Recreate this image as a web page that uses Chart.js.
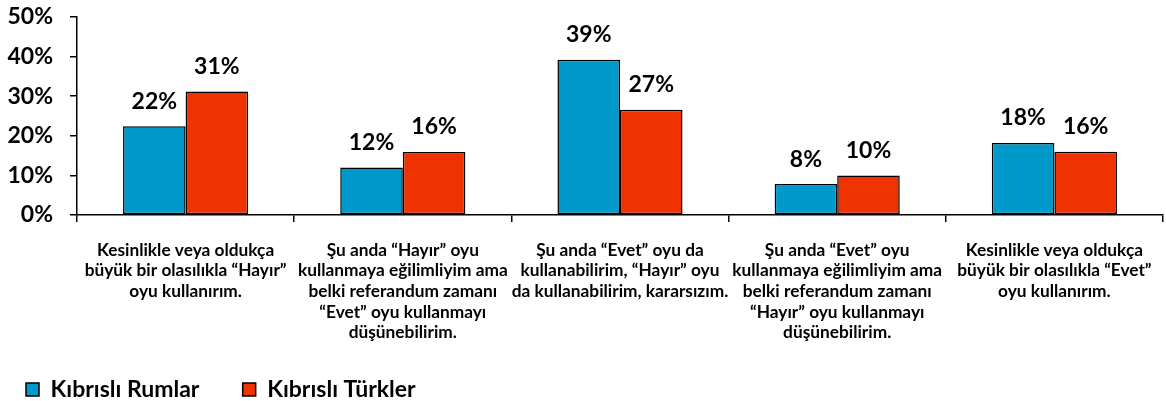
<!DOCTYPE html>
<html><head><meta charset="utf-8">
<script src="https://cdn.jsdelivr.net/npm/chart.js@4"></script>
<style>html,body{margin:0;padding:0;background:#fff}#wrap{width:1166px;height:401px}</style>
</head><body><div id="wrap"><canvas id="c" width="1166" height="401"></canvas></div>
<script>
const categories = [
  ["Kesinlikle veya oldukça", "büyük bir olasılıkla “Hayır”", "oyu kullanırım."],
  ["Şu anda “Hayır” oyu", "kullanmaya eğilimliyim ama", "belki referandum zamanı", "“Evet” oyu kullanmayı", "düşünebilirim."],
  ["Şu anda “Evet” oyu da", "kullanabilirim, “Hayır” oyu", "da kullanabilirim, kararsızım."],
  ["Şu anda “Evet” oyu", "kullanmaya eğilimliyim ama", "belki referandum zamanı", "“Hayır” oyu kullanmayı", "düşünebilirim."],
  ["Kesinlikle veya oldukça", "büyük bir olasılıkla “Evet”", "oyu kullanırım."]
];
const seriesNames = ["Kıbrıslı Rumlar", "Kıbrıslı Türkler"];
const rumlar = [22.4, 12.0, 39.2, 7.8, 18.2];
const turkler = [31.2, 15.9, 26.6, 10.0, 16.0];
const yTicks = [0, 10, 20, 30, 40, 50];

const FONT = "Lato, 'Open Sans', sans-serif";

const labelPlugin = {
  id: 'barLabels',
  afterDatasetsDraw(chart) {
    const ctx = chart.ctx;
    ctx.save();
    ctx.font = "bold 23px " + FONT;
    ctx.fillStyle = "#000";
    ctx.textAlign = "center";
    ctx.textBaseline = "middle";
    chart.data.datasets.forEach((ds, i) => {
      chart.getDatasetMeta(i).data.forEach((bar, j) => {
        ctx.fillText(Math.round(ds.data[j]) + "%", bar.x, bar.y - 25);
      });
    });
    ctx.restore();
  }
};

new Chart(document.getElementById('c'), {
  type: 'bar',
  data: {
    labels: categories,
    datasets: [
      { label: seriesNames[0], data: rumlar, backgroundColor: "#0099CC", borderColor: "#000", borderWidth: 1.5, borderSkipped: false },
      { label: seriesNames[1], data: turkler, backgroundColor: "#EE3300", borderColor: "#000", borderWidth: 1.5, borderSkipped: false }
    ]
  },
  options: {
    responsive: false,
    animation: false,
    devicePixelRatio: 1,
    layout: { padding: { top: 17, right: 3, left: 0, bottom: -10 } },
    datasets: { bar: { categoryPercentage: 0.576, barPercentage: 1.0 } },
    plugins: {
      tooltip: { enabled: false },
      legend: {
        position: 'bottom',
        align: 'start',
        labels: {
          font: { family: FONT, size: 23, weight: 'bold' },
          color: '#000',
          boxWidth: 13,
          boxHeight: 13,
          padding: 26,
          generateLabels(chart) {
            return chart.data.datasets.map((ds, i) => ({
              text: ds.label + (i === 0 ? "\u2003" : ""),
              fillStyle: ds.backgroundColor, strokeStyle: '#000', lineWidth: 1.5, datasetIndex: i, hidden: false
            }));
          }
        }
      }
    },
    scales: {
      x: {
        afterFit(s) { s.height = 137; s.paddingLeft = 0; s.paddingRight = 0; },
        grid: { drawOnChartArea: false, tickLength: 7, color: '#000', lineWidth: 1.5, offset: true },
        border: { color: '#000', width: 1.5 },
        ticks: { font: { family: FONT, size: 17.3, weight: 'bold', lineHeight: 1.19 }, color: '#000', padding: 18, maxRotation: 0, autoSkip: false }
      },
      y: {
        min: 0, max: 50,
        afterFit(s) { s.width = 77; s.paddingTop = 0; s.paddingBottom = 0; },
        afterBuildTicks(s) { s.ticks = yTicks.map(v => ({ value: v })); },
        grid: { drawOnChartArea: false, tickLength: 7, color: '#000', lineWidth: 1.5 },
        border: { color: '#000', width: 1.5 },
        ticks: { font: { family: FONT, size: 23, weight: 'bold' }, color: '#000', padding: 17, callback: v => v + "%" }
      }
    }
  },
  plugins: [labelPlugin]
});
</script></body></html>
